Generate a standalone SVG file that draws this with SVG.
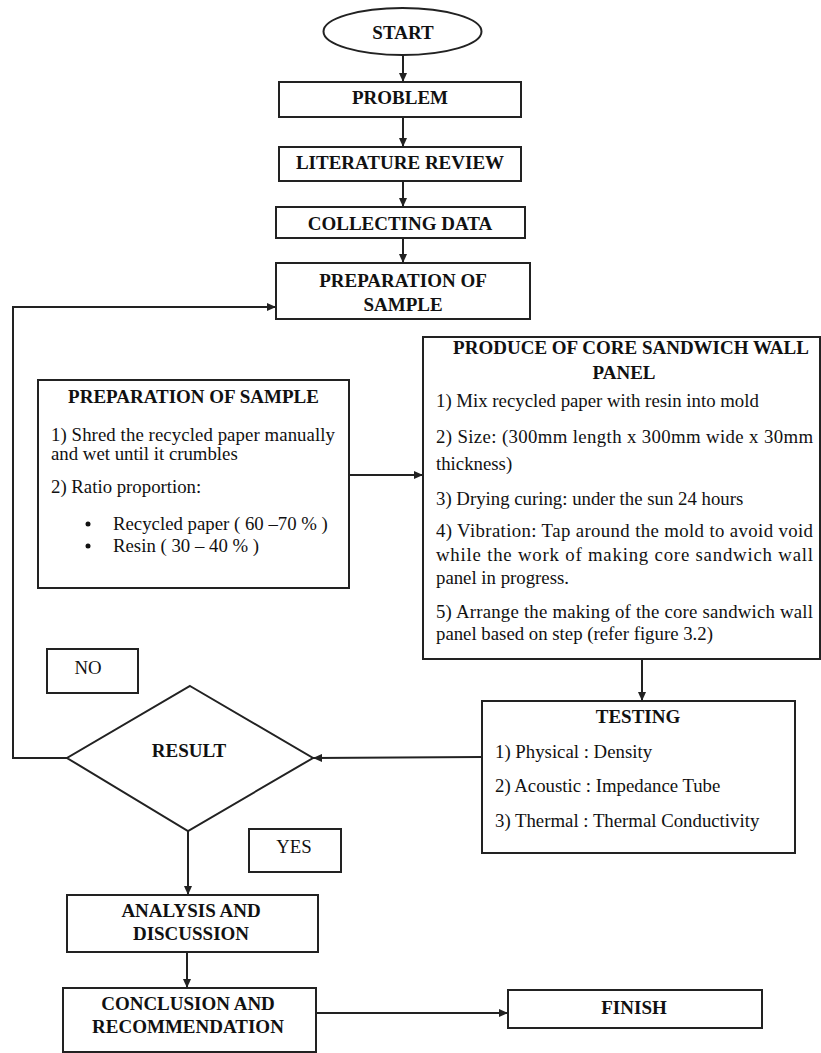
<svg xmlns="http://www.w3.org/2000/svg" width="821" height="1053" viewBox="0 0 821 1053">
<style>
.box{fill:#fff;stroke:#222;stroke-width:2}
.ln{fill:none;stroke:#222;stroke-width:2}
.h{font-family:"Liberation Serif","Times New Roman",serif;font-weight:bold;font-size:19px;fill:#111;text-anchor:middle}
.t{font-family:"Liberation Serif","Times New Roman",serif;font-size:18.8px;fill:#111}
</style>
<defs>
<marker id="ah" markerUnits="userSpaceOnUse" markerWidth="9" markerHeight="8" refX="9" refY="4" orient="auto">
<path d="M0,0 L9,4 L0,8 z" fill="#222"/>
</marker>
</defs>
<rect width="821" height="1053" fill="#fff"/>
<g id="connectors">
<line class="ln" x1="403" y1="55" x2="403" y2="82" marker-end="url(#ah)"/>
<line class="ln" x1="403" y1="117" x2="403" y2="147" marker-end="url(#ah)"/>
<line class="ln" x1="403" y1="181" x2="403" y2="207" marker-end="url(#ah)"/>
<line class="ln" x1="403" y1="238" x2="403" y2="263" marker-end="url(#ah)"/>
<polyline class="ln" points="67,758 13,758 13,307 276,307" marker-end="url(#ah)"/>
<line class="ln" x1="349" y1="475" x2="423" y2="475" marker-end="url(#ah)"/>
<line class="ln" x1="642" y1="659" x2="642" y2="701" marker-end="url(#ah)"/>
<line class="ln" x1="482" y1="757" x2="313" y2="758" marker-end="url(#ah)"/>
<line class="ln" x1="188" y1="831" x2="188" y2="895" marker-end="url(#ah)"/>
<line class="ln" x1="187" y1="952" x2="187" y2="988" marker-end="url(#ah)"/>
<line class="ln" x1="316" y1="1013" x2="508" y2="1013" marker-end="url(#ah)"/>
</g>
<g id="start">
<ellipse class="box" cx="402.5" cy="31.5" rx="79" ry="23.5"/>
<text class="h" x="403" y="39">START</text>
</g>
<g id="problem">
<rect class="box" x="279" y="82" width="242" height="35"/>
<text class="h" x="400" y="104">PROBLEM</text>
</g>
<g id="literature">
<rect class="box" x="279" y="147" width="242" height="34"/>
<text class="h" x="400" y="169">LITERATURE REVIEW</text>
</g>
<g id="collecting">
<rect class="box" x="276" y="207" width="249" height="31"/>
<text class="h" x="400" y="230">COLLECTING DATA</text>
</g>
<g id="prep-main">
<rect class="box" x="276" y="263" width="254" height="56"/>
<text class="h" x="403" y="287">PREPARATION OF</text>
<text class="h" x="403" y="311">SAMPLE</text>
</g>
<g id="prep-detail">
<rect class="box" x="38" y="380" width="311" height="208"/>
<text class="h" x="193.5" y="403">PREPARATION OF SAMPLE</text>
<text class="t" x="51" y="441" textLength="284" lengthAdjust="spacing">1) Shred the recycled paper manually</text>
<text class="t" x="51" y="460">and wet until it crumbles</text>
<text class="t" x="51" y="493">2) Ratio proportion:</text>
<circle cx="88" cy="524" r="2.5" fill="#111"/>
<text class="t" x="113" y="530">Recycled paper ( 60 –70 % )</text>
<circle cx="88" cy="546" r="2.5" fill="#111"/>
<text class="t" x="113" y="552">Resin ( 30 – 40 % )</text>
</g>
<g id="produce">
<rect class="box" x="423" y="337" width="397" height="322"/>
<text class="h" x="631" y="354">PRODUCE OF CORE SANDWICH WALL</text>
<text class="h" x="624" y="379">PANEL</text>
<text class="t" x="436" y="407">1) Mix recycled paper with resin into mold</text>
<text class="t" x="436" y="443" textLength="377" lengthAdjust="spacing">2) Size: (300mm length x 300mm wide x 30mm</text>
<text class="t" x="436" y="470">thickness)</text>
<text class="t" x="436" y="505">3) Drying curing: under the sun 24 hours</text>
<text class="t" x="436" y="537" textLength="377" lengthAdjust="spacing">4) Vibration: Tap around the mold to avoid void</text>
<text class="t" x="436" y="561" textLength="377" lengthAdjust="spacing">while the work of making core sandwich wall</text>
<text class="t" x="436" y="584">panel in progress.</text>
<text class="t" x="436" y="618" textLength="377" lengthAdjust="spacing">5) Arrange the making of the core sandwich wall</text>
<text class="t" x="436" y="640">panel based on step (refer figure 3.2)</text>
</g>
<g id="testing">
<rect class="box" x="482" y="701" width="313" height="152"/>
<text class="h" x="638" y="723">TESTING</text>
<text class="t" x="495" y="758">1) Physical : Density</text>
<text class="t" x="495" y="792">2) Acoustic : Impedance Tube</text>
<text class="t" x="495" y="827">3) Thermal : Thermal Conductivity</text>
</g>
<g id="result">
<polygon class="box" points="190,686 313,758 188,831 67,758"/>
<text class="h" x="189" y="757">RESULT</text>
</g>
<g id="no-label">
<rect class="box" x="47" y="649" width="91" height="44"/>
<text class="t" x="88" y="674" text-anchor="middle">NO</text>
</g>
<g id="yes-label">
<rect class="box" x="249" y="829" width="92" height="43"/>
<text class="t" x="294" y="853" text-anchor="middle">YES</text>
</g>
<g id="analysis">
<rect class="box" x="67" y="895" width="251" height="57"/>
<text class="h" x="191" y="917">ANALYSIS AND</text>
<text class="h" x="191" y="940">DISCUSSION</text>
</g>
<g id="conclusion">
<rect class="box" x="63" y="988" width="253" height="64"/>
<text class="h" x="188" y="1010">CONCLUSION AND</text>
<text class="h" x="188" y="1033">RECOMMENDATION</text>
</g>
<g id="finish">
<rect class="box" x="508" y="990" width="254" height="38"/>
<text class="h" x="634" y="1014">FINISH</text>
</g>
</svg>
